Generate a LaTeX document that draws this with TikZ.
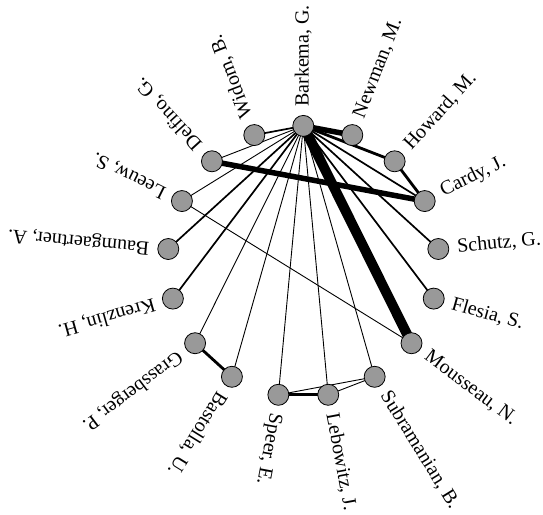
\documentclass[tikz,border=0pt]{standalone}
\usepackage{fontspec}
\setmainfont{Liberation Serif}
\pgfdeclarelayer{bg}
\pgfsetlayers{bg,main}
\definecolor{nodegray}{RGB}{153,153,153}
\tikzset{
  pnode/.style={circle,draw=black,line width=0.8pt,fill=nodegray,minimum size=21pt,inner sep=0pt},
  plabel/.style={anchor=west,inner sep=0pt,font=\fontsize{20}{24}\selectfont},
  wthin/.style={line width=0.9pt},
  wmed/.style={line width=1.7pt},
  wbig/.style={line width=2.8pt},
  wfat/.style={line width=5.5pt},
  whuge/.style={line width=10pt}
}
\newcommand\person[3]{%
  \node[pnode] (#1) at (#2:135.6) {};
  \node[plabel,rotate=#2] (#1-lab) at (#2:154.5) {#3};
}
\begin{document}
\begin{tikzpicture}[x=1pt,y=1pt]
\useasboundingbox (0,0) rectangle (543,-514);
\begin{scope}[shift={(303.3,-261.5)}]
\person{bark}{90}{Barkema, G.}
\person{newm}{68.82}{Newman, M.}
\person{howa}{47.65}{Howard, M.}
\person{card}{26.47}{Cardy, J.}
\person{schu}{5.29}{Schutz, G.}
\person{fles}{-15.88}{Flesia, S.}
\person{mous}{-37.06}{Mousseau, N.}
\person{subr}{-58.24}{Subramanian, B.}
\person{lebo}{-79.41}{Lebowitz, J.}
\person{spee}{-100.59}{Speer, E.}
\person{bast}{-121.76}{Bastolla, U.}
\person{gras}{-142.94}{Grassberger, P.}
\person{kren}{-164.12}{Krenzlin, H.}
\person{baum}{174.71}{Baumgaertner, A.}
\person{leeu}{153.53}{Leeuw, S.}
\person{delf}{132.35}{Delfino, G.}
\person{wido}{111.18}{Widom, B.}
\end{scope}
\begin{pgfonlayer}{bg}
\draw[wmed] (bark.center) -- (wido.center);
\draw[wfat] (bark.center) -- (newm.center);
\draw[wbig] (bark.center) -- (howa.center);
\draw[wmed] (bark.center) -- (card.center);
\draw[wmed] (bark.center) -- (schu.center);
\draw[wmed] (bark.center) -- (fles.center);
\draw[whuge] (bark.center) -- (mous.center);
\draw[wthin] (bark.center) -- (subr.center);
\draw[wthin] (bark.center) -- (lebo.center);
\draw[wthin] (bark.center) -- (spee.center);
\draw[wthin] (bark.center) -- (bast.center);
\draw[wthin] (bark.center) -- (gras.center);
\draw[wmed] (bark.center) -- (kren.center);
\draw[wmed] (bark.center) -- (baum.center);
\draw[wthin] (bark.center) -- (leeu.center);
\draw[wthin] (bark.center) -- (delf.center);
\draw[wfat] (delf.center) -- (card.center);
\draw[wbig] (howa.center) -- (card.center);
\draw[wthin] (leeu.center) -- (mous.center);
\draw[wbig] (gras.center) -- (bast.center);
\draw[wbig] (spee.center) -- (lebo.center);
\draw[wthin] (spee.center) -- (subr.center);
\draw[wthin] (lebo.center) -- (subr.center);
\end{pgfonlayer}
\end{tikzpicture}
\end{document}
